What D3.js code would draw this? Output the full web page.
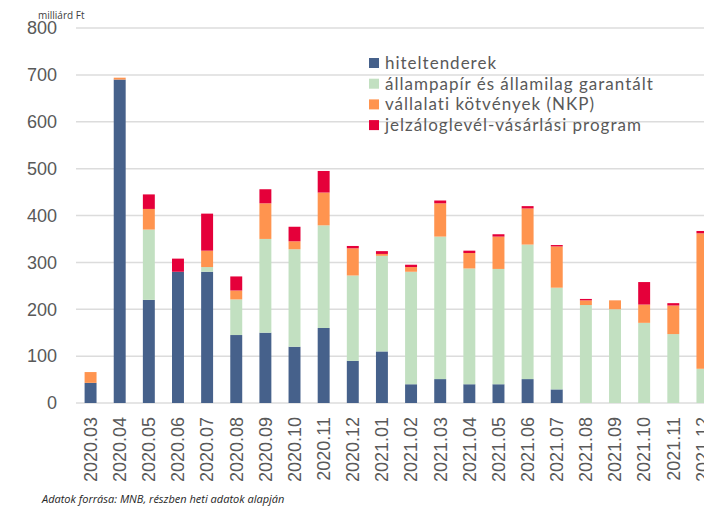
<!DOCTYPE html>
<html>
<head>
<meta charset="utf-8">
<script src="https://cdn.jsdelivr.net/npm/d3@7"></script>
<style>
  body { margin: 0; background: #fff; }
  svg { display: block; font-family: Lato, "Open Sans", sans-serif; }
</style>
</head>
<body>
<div id="chart"></div>
<script>
// honapok
var months = ["2020.03","2020.04","2020.05","2020.06","2020.07","2020.08","2020.09","2020.10","2020.11","2020.12",
  "2021.01","2021.02","2021.03","2021.04","2021.05","2021.06","2021.07","2021.08","2021.09","2021.10","2021.11","2021.12"];

// milliard Ft
var hiteltenderek = [43, 690, 220, 280, 280, 145, 150, 120, 160, 90, 110, 40, 51, 40, 40, 51, 29, 0, 0, 0, 0, 0];
var allampapir    = [0, 0, 150, 0, 10, 76, 200, 208, 219, 182, 204, 240, 304, 247, 246, 287, 217, 209, 200, 171, 147, 73];
var vallalati     = [23, 4, 44, 0, 35, 19, 76, 17, 70, 58, 4, 10, 71, 33, 69, 77, 88, 10, 19, 39, 61, 289];
var jelzalog      = [0, 0, 31, 28, 79, 30, 30, 31, 46, 5, 6, 5, 6, 5, 5, 5, 3, 3, 0, 48, 5, 5];

var seriesNames = ["hiteltenderek", "állampapír és államilag garantált", "vállalati kötvények (NKP)", "jelzáloglevél-vásárlási program"];
var seriesColors = ["#46618b", "#c2e0c1", "#ff944f", "#e5003a"];
var yTicks = [0, 100, 200, 300, 400, 500, 600, 700, 800];

var W = 704, H = 507;

var svg = d3.select("#chart")
  .append("svg")
    .attr("width", W)
    .attr("height", H);

var rows = months.map(function(m, i) {
  return {month: m, s0: hiteltenderek[i], s1: allampapir[i], s2: vallalati[i], s3: jelzalog[i]};
});

var x = d3.scaleBand()
  .domain(months)
  .range([76, 717])
  .paddingInner(0.59)
  .paddingOuter(0.295);

var y = d3.scaleLinear()
  .domain([0, 800])
  .range([403, 28]);

// gridlines
svg.append("g")
  .selectAll("line")
  .data(yTicks)
  .enter()
  .append("line")
    .attr("x1", 76)
    .attr("x2", W)
    .attr("y1", function(d) { return y(d); })
    .attr("y2", function(d) { return y(d); })
    .attr("stroke", "#dcdcdc")
    .attr("stroke-width", 1.5);

// y axis
var yAxis = svg.append("g")
  .attr("transform", "translate(76,0)")
  .call(d3.axisLeft(y).tickValues(yTicks).tickSize(0).tickPadding(19));
yAxis.select(".domain").remove();
yAxis.selectAll("text")
  .attr("fill", "#595959")
  .style("font-size", "18px");

svg.append("text")
  .attr("x", 38)
  .attr("y", 19)
  .attr("fill", "#404040")
  .style("font-family", "'Open Sans', sans-serif")
  .style("font-size", "10px")
  .text("milliárd Ft");

// stacked bars
var stack = d3.stack().keys(["s0", "s1", "s2", "s3"]);
var layers = stack(rows);

svg.append("g")
  .selectAll("g")
  .data(layers)
  .enter()
  .append("g")
    .attr("fill", function(d, i) { return seriesColors[i]; })
  .selectAll("rect")
  .data(function(d) { return d; })
  .enter()
  .append("rect")
    .attr("x", function(d) { return x(d.data.month); })
    .attr("y", function(d) { return y(d[1]); })
    .attr("width", x.bandwidth())
    .attr("height", function(d) { return Math.max(0, y(d[0]) - y(d[1])); });

// x axis
var xAxis = svg.append("g")
  .attr("transform", "translate(0,403)")
  .call(d3.axisBottom(x).tickSize(0).tickPadding(0));
xAxis.select(".domain").remove();
xAxis.selectAll("text")
  .attr("fill", "#595959")
  .style("font-size", "18px")
  .attr("text-anchor", "end")
  .attr("transform", "rotate(-90)")
  .attr("x", -14)
  .attr("y", 0)
  .attr("dy", "0.35em");

// legend
var legend = svg.append("g")
  .selectAll("g")
  .data(seriesNames)
  .enter()
  .append("g")
    .attr("transform", function(d, i) { return "translate(369," + (63 + i * 20.7) + ")"; });

legend.append("rect")
  .attr("x", 0)
  .attr("y", -5)
  .attr("width", 10)
  .attr("height", 10)
  .attr("fill", function(d, i) { return seriesColors[i]; });

legend.append("text")
  .attr("x", 16)
  .attr("y", 0)
  .attr("dy", "0.35em")
  .attr("fill", "#595959")
  .style("font-size", "17px")
  .style("letter-spacing", "1px")
  .text(function(d) { return d; });

// forras
svg.append("text")
  .attr("x", 42)
  .attr("y", 503)
  .attr("fill", "#262626")
  .style("font-family", "'Open Sans', sans-serif")
  .style("font-size", "11px")
  .style("font-style", "italic")
  .text("Adatok forrása: MNB, részben heti adatok alapján");
</script>
</body>
</html>
